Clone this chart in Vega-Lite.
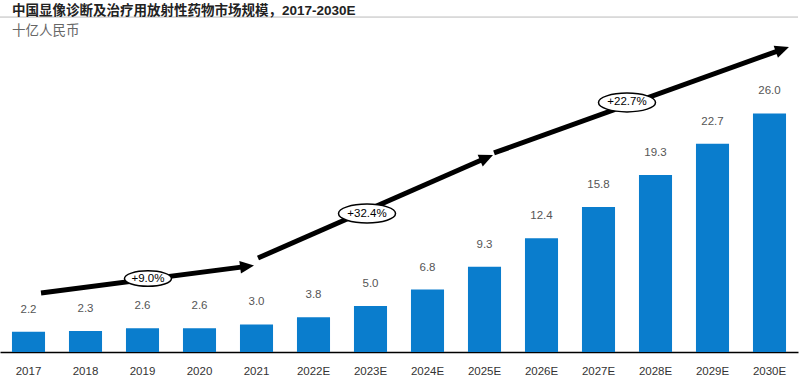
{
  "$schema": "https://vega.github.io/schema/vega-lite/v6.json",
  "width": 798,
  "height": 312,
  "autosize": "none",
  "padding": {"left": 0, "top": 40, "right": 2, "bottom": 26},
  "background": "white",
  "config": {
    "view": {"stroke": null},
    "font": "Liberation Sans, Noto Sans CJK SC"
  },
  "title": {
    "text": "中国显像诊断及治疗用放射性药物市场规模，2017-2030E",
    "subtitle": "十亿人民币",
    "anchor": "start",
    "frame": "group",
    "dx": 12,
    "offset": -21,
    "fontSize": 13.5,
    "fontWeight": "bold",
    "color": "#222222",
    "font": "Liberation Sans, Noto Sans CJK SC",
    "subtitleFont": "Liberation Sans, Noto Sans CJK SC",
    "subtitleFontSize": 13.5,
    "subtitleColor": "#666666",
    "subtitlePadding": 7
  },
  "datasets": {
    "bars": [
      {"year": "2017", "value": 2.2},
      {"year": "2018", "value": 2.3},
      {"year": "2019", "value": 2.6},
      {"year": "2020", "value": 2.6},
      {"year": "2021", "value": 3.0},
      {"year": "2022E", "value": 3.8},
      {"year": "2023E", "value": 5.0},
      {"year": "2024E", "value": 6.8},
      {"year": "2025E", "value": 9.3},
      {"year": "2026E", "value": 12.4},
      {"year": "2027E", "value": 15.8},
      {"year": "2028E", "value": 19.3},
      {"year": "2029E", "value": 22.7},
      {"year": "2030E", "value": 26.0}
    ],
    "arrows": [
      {"seg": 1, "pos": 0.719, "level": 6.43},
      {"seg": 1, "pos": 4.335, "level": 9.33},
      {"seg": 2, "pos": 4.526, "level": 10.24},
      {"seg": 2, "pos": 8.537, "level": 21.16},
      {"seg": 3, "pos": 8.667, "level": 21.69},
      {"seg": 3, "pos": 13.726, "level": 32.98}
    ],
    "heads": [
      {"seg": 1, "pos": 4.335, "level": 9.33},
      {"seg": 2, "pos": 8.537, "level": 21.16},
      {"seg": 3, "pos": 13.726, "level": 32.98}
    ],
    "cagr": [
      {"label": "+9.0%", "pos": 2.596, "level": 8.0},
      {"label": "+32.4%", "pos": 6.439, "level": 15.09},
      {"label": "+22.7%", "pos": 11.0, "level": 27.19}
    ],
    "rules": [{"level": 36.5}]
  },
  "layer": [
    {
      "layer": [
        {
          "data": {"name": "bars"},
          "mark": {"type": "bar", "color": "#0a7dcd"},
          "encoding": {
            "x": {
              "field": "year", "type": "ordinal", "sort": null,
              "scale": {"paddingInner": 0.42, "paddingOuter": 0.21},
              "axis": {
                "title": null, "labelAngle": 0, "ticks": false,
                "domainColor": "#000000", "domainWidth": 1.5,
                "labelPadding": 13, "labelFontSize": 11.5, "labelColor": "#333333",
                "labelFont": "Liberation Sans"
              }
            },
            "y": {"field": "value", "type": "quantitative", "scale": {"domain": [0, 34]}, "axis": null}
          }
        },
        {
          "data": {"name": "bars"},
          "mark": {"type": "text", "dy": -22, "fontSize": 11.5, "color": "#555555", "font": "Liberation Sans"},
          "encoding": {
            "x": {"field": "year", "type": "ordinal", "sort": null},
            "y": {"field": "value", "type": "quantitative", "scale": {"domain": [0, 34]}},
            "text": {"field": "value", "type": "quantitative", "format": ".1f"}
          }
        }
      ]
    },
    {
      "layer": [
        {
          "data": {"name": "rules"},
          "mark": {"type": "rule", "color": "#bbbbbb", "strokeWidth": 1},
          "encoding": {
            "y": {"field": "level", "type": "quantitative", "scale": {"domain": [0, 34]}}
          }
        },
        {
          "data": {"name": "arrows"},
          "mark": {"type": "line", "color": "#000000", "strokeWidth": 5, "strokeCap": "butt"},
          "encoding": {
            "x": {"field": "pos", "type": "quantitative", "scale": {"domain": [0, 14]}, "axis": null},
            "y": {"field": "level", "type": "quantitative", "scale": {"domain": [0, 34]}},
            "detail": {"field": "seg"}
          }
        },
        {
          "data": {"name": "heads"},
          "mark": {"type": "point", "shape": "M -1 -0.9 L 1 0 L -1 0.9 Z", "filled": true, "color": "#000000", "opacity": 1, "size": 196},
          "encoding": {
            "x": {"field": "pos", "type": "quantitative", "scale": {"domain": [0, 14]}},
            "y": {"field": "level", "type": "quantitative", "scale": {"domain": [0, 34]}},
            "angle": {
              "condition": [
                {"test": "datum.seg === 1", "value": 352.6},
                {"test": "datum.seg === 2", "value": 336.4}
              ],
              "value": 340.2
            }
          }
        },
        {
          "data": {"name": "cagr"},
          "mark": {"type": "point", "shape": "M -1 0 A 1 0.33 0 1 0 1 0 A 1 0.33 0 1 0 -1 0 Z", "filled": false, "fill": "#ffffff", "fillOpacity": 1, "stroke": "#000000", "strokeWidth": 1.5, "opacity": 1},
          "encoding": {
            "x": {"field": "pos", "type": "quantitative", "scale": {"domain": [0, 14]}},
            "y": {"field": "level", "type": "quantitative", "scale": {"domain": [0, 34]}},
            "size": {
              "condition": {"test": "datum.label === '+9.0%'", "value": 2209},
              "value": 3249
            }
          }
        },
        {
          "data": {"name": "cagr"},
          "mark": {"type": "text", "fontSize": 11.5, "color": "#000000", "font": "Liberation Sans"},
          "encoding": {
            "x": {"field": "pos", "type": "quantitative", "scale": {"domain": [0, 14]}},
            "y": {"field": "level", "type": "quantitative", "scale": {"domain": [0, 34]}},
            "text": {"field": "label"}
          }
        }
      ]
    }
  ],
  "resolve": {"scale": {"x": "independent"}}
}
